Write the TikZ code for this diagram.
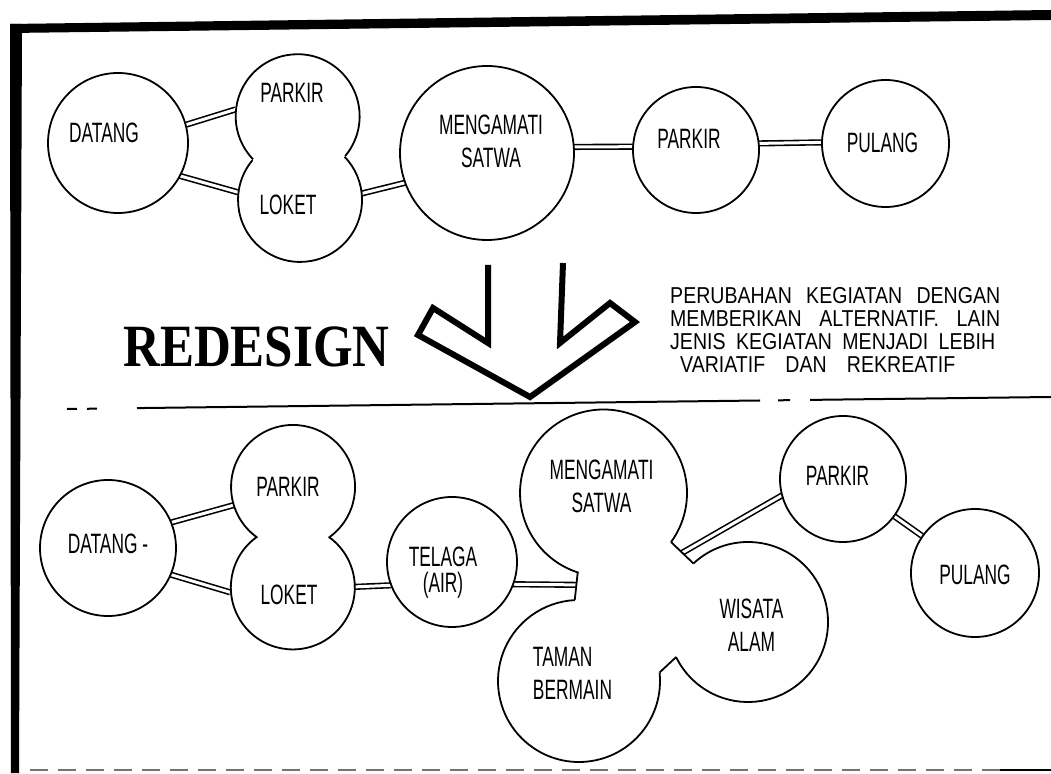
\documentclass[tikz,border=0pt]{standalone}
\usepackage{fontspec}
\usetikzlibrary{calc}
\newfontfamily\handfont[FakeStretch=0.62]{Liberation Sans}
\newfontfamily\notefont[FakeStretch=0.85]{Liberation Sans}
\newfontfamily\headfont[FakeStretch=0.85]{Liberation Serif}

\pgfdeclarelayer{background}
\pgfsetlayers{background,main}

\tikzset{
  bub/.style={circle, inner sep=0pt, outer sep=0pt, line width=1.8pt},
  ring/.style={bub, draw},
  lbl/.style={font=\handfont\fontsize{28}{33}\selectfont, align=center, inner sep=0pt},
  outline/.style={line width=1.8pt},
  link/.style={double, double distance=3pt, line width=1.6pt},
  note/.style={font=\notefont\fontsize{23}{23}\selectfont, align=left, anchor=north west, inner sep=0pt},
  headline/.style={font=\headfont\bfseries\fontsize{60}{60}\selectfont, anchor=base west, inner sep=0pt},
  divider/.style={line width=2pt},
  chevron/.style={line width=6pt, line join=miter},
}

% \bubble[label opts]{name}{x}{y}{radius}{circle style}{dx}{dy}{text}
\newcommand\bubble[9][]{%
  \node[#6, minimum size=2*#5 pt] (#2) at (#3,#4) {};
  \node[lbl,#1] (#2-t) at ([shift={(#7,#8)}]#2.center) {#9};
}

\begin{document}
\begin{tikzpicture}[x=1pt, y=1pt]
\useasboundingbox (0,0) rectangle (1051,773);
\begin{pgfonlayer}{background}
\fill[white] (0,0) rectangle (1051,773);
\end{pgfonlayer}

% sheet frame
\fill (10,740) -- (1051,753) -- (1051,763) -- (10,749) -- cycle;
\fill (11,0) -- (10,749) -- (22,749) -- (19,0) -- cycle;
\draw[black!55, line width=1.5pt, dash pattern=on 18pt off 10pt] (30,3) -- (1000,3);
\draw[line width=2.5pt] (1000,3) -- (1051,3);

% dividing line between the two schemes
\draw[divider] (67,364) -- (77,364.1) (87,364.2) -- (97,364.4)
  (137,364.9) -- (760,372.5) (778,372.7) -- (790,372.8) (810,373.1) -- (1051,376);

% ---------- existing activity flow ----------
\bubble{datA}{118}{630}{70}{ring}{-14}{10}{DATANG}
\bubble{parkA}{297}{656}{62}{bub}{-5}{24}{PARKIR}
\bubble{lokA}{300}{573}{62}{bub}{-12}{-5}{LOKET}
\bubble{mengA}{487}{620}{87}{ring}{4}{11.5}{MENGAMATI\\SATWA}
\bubble{parkB}{696}{623}{63}{ring}{-7}{11}{PARKIR}
\bubble{pulA}{885.5}{629.5}{63.5}{ring}{-3}{1}{PULANG}

\draw[outline] (parkA.-39.93) arc[start angle=-39.93, end angle=224.07, radius=62];
\draw[outline] (lokA.140.07) arc[start angle=140.07, end angle=404.07, radius=62];

% ---------- redesign arrow and caption ----------
\node[headline] (redesign) at (123,406) {REDESIGN};
\draw[chevron] (488,508) -- (488,430) -- (433,465) -- (418,438) -- (530,376)
  -- (635,451) -- (610,470) -- (560,430) -- (563,510);

\node[note] (note) at (670,486) {%
  \makebox[330pt][s]{PERUBAHAN KEGIATAN DENGAN}\\
  \makebox[330pt][s]{MEMBERIKAN ALTERNATIF. LAIN}\\
  \makebox[325pt][s]{JENIS KEGIATAN MENJADI LEBIH}\\
  \hspace*{10pt}\makebox[275pt][s]{VARIATIF DAN REKREATIF}};

% ---------- redesigned activity flow ----------
\bubble{datB}{108}{225}{68}{ring}{0}{4.5}{DATANG -}
\bubble{parkC}{293}{286}{62}{bub}{-5}{0}{PARKIR}
\bubble{lokB}{292}{185}{62}{bub}{-3}{-7}{LOKET}
\bubble[font=\handfont\fontsize{28}{26}\selectfont]{telaga}{452}{211}{65}{ring}{-9}{-10.5}{TELAGA\\(AIR)}
\bubble{meng2}{603.5}{280}{83.5}{bub}{-2}{7}{MENGAMATI\\SATWA}
\bubble[align=left]{taman}{579}{92}{81}{bub}{-6.5}{7.5}{TAMAN\\BERMAIN}
\bubble{wisata}{748}{151}{80}{bub}{3.5}{-3}{WISATA\\ALAM}
\bubble{parkD}{843}{294}{63}{ring}{-5.5}{3.5}{PARKIR}
\bubble{pulB}{975}{200}{64}{ring}{0}{-2}{PULANG}

\draw[outline] (parkC.-55.07) arc[start angle=-55.07, end angle=233.93, radius=62];
\draw[outline] (lokB.124.93) arc[start angle=124.93, end angle=413.93, radius=62];

% cluster of the three attractions, joined by short necks
\draw[outline] (meng2.-36) arc[start angle=-36, end angle=252.6, radius=83.5];
\draw[outline] (taman.6) arc[start angle=6, end angle=-267, radius=81];
\draw[outline] (wisata.133) arc[start angle=133, end angle=-154, radius=80];
\draw[outline] (meng2.252.6) -- (taman.93);
\draw[outline] (meng2.-36) -- (wisata.133);
\draw[outline] (taman.6) -- (wisata.-154);
\coordinate (neckL) at ($(meng2.252.6)!0.45!(taman.93)$);
\coordinate (neckR) at ($(meng2.-36)!0.5!(wisata.133)$);

% ---------- connecting paths (kept under the outlines) ----------
\begin{pgfonlayer}{background}
\draw[link] (datA.15) -- (parkA.173);
\draw[link] (datA.-28) -- (lokA.173);
\draw[link] (lokA.6) -- (mengA.200);
\draw[link] (mengA.4) -- (parkB.177);
\draw[link] (parkB.6) -- (pulA.179);
\draw[link] (datB.22) -- (parkC.197);
\draw[link] (datB.-23) -- (lokB.184);
\draw[link] (lokB.1) -- (telaga.201);
\draw[link] (telaga.-20) -- (neckL);
\draw[link] (neckR) -- (parkD.195);
\draw[link] (parkD.-36) -- (pulB.145);
\end{pgfonlayer}
\end{tikzpicture}
\end{document}
